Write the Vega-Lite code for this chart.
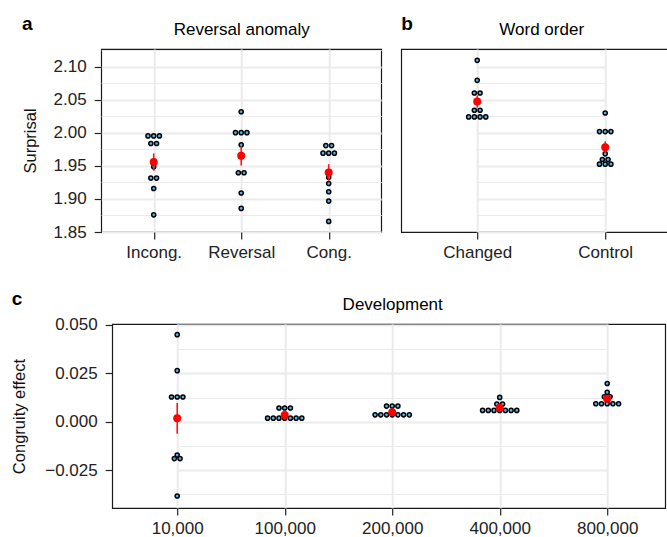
{
  "$schema": "https://vega.github.io/schema/vega-lite/v6.json",
  "padding": {"left": 11, "top": 14, "right": 0, "bottom": 2},
  "background": "white",
  "config": {
    "font": "Liberation Sans",
    "view": {"stroke": "#1a1a1a", "strokeWidth": 1.2},
    "axis": {"labelFont": "Liberation Sans", "labelFontSize": 17, "labelColor": "#222", "titleFont": "Liberation Sans", "titleFontSize": 16.5, "titleFontWeight": "normal", "titleColor": "#111", "tickColor": "#222", "tickSize": 7, "tickWidth": 1.2, "domain": false, "gridColor": "#ebebeb", "labelOverlap": false},
    "title": {"font": "Liberation Sans", "fontSize": 19, "fontWeight": "bold", "anchor": "start", "frame": "bounds", "color": "#000", "offset": -14}
  },
  "datasets": {
    "rev": [
      {"cond": "Incong.", "value": 1.9955}, {"cond": "Incong.", "value": 1.9955}, {"cond": "Incong.", "value": 1.9955},
      {"cond": "Incong.", "value": 1.984}, {"cond": "Incong.", "value": 1.984}, {"cond": "Incong.", "value": 1.9486},
      {"cond": "Incong.", "value": 1.9316}, {"cond": "Incong.", "value": 1.9316}, {"cond": "Incong.", "value": 1.9159},
      {"cond": "Incong.", "value": 1.876},
      {"cond": "Reversal", "value": 2.032}, {"cond": "Reversal", "value": 2.0004}, {"cond": "Reversal", "value": 2.0004},
      {"cond": "Reversal", "value": 2.0004}, {"cond": "Reversal", "value": 1.982}, {"cond": "Reversal", "value": 1.965},
      {"cond": "Reversal", "value": 1.9396}, {"cond": "Reversal", "value": 1.9396}, {"cond": "Reversal", "value": 1.909},
      {"cond": "Reversal", "value": 1.8857},
      {"cond": "Cong.", "value": 1.9808}, {"cond": "Cong.", "value": 1.9808}, {"cond": "Cong.", "value": 1.9693},
      {"cond": "Cong.", "value": 1.9693}, {"cond": "Cong.", "value": 1.9693}, {"cond": "Cong.", "value": 1.933},
      {"cond": "Cong.", "value": 1.9234}, {"cond": "Cong.", "value": 1.9109}, {"cond": "Cong.", "value": 1.8968},
      {"cond": "Cong.", "value": 1.866}
    ],
    "word": [
      {"cond": "Changed", "value": 2.1098}, {"cond": "Changed", "value": 2.0796}, {"cond": "Changed", "value": 2.0604},
      {"cond": "Changed", "value": 2.0604}, {"cond": "Changed", "value": 2.0343}, {"cond": "Changed", "value": 2.0343},
      {"cond": "Changed", "value": 2.0242}, {"cond": "Changed", "value": 2.0242}, {"cond": "Changed", "value": 2.0242},
      {"cond": "Changed", "value": 2.0242},
      {"cond": "Control", "value": 2.0302}, {"cond": "Control", "value": 2.002}, {"cond": "Control", "value": 2.002},
      {"cond": "Control", "value": 2.002}, {"cond": "Control", "value": 1.9683}, {"cond": "Control", "value": 1.9597},
      {"cond": "Control", "value": 1.9597}, {"cond": "Control", "value": 1.9527}, {"cond": "Control", "value": 1.9527},
      {"cond": "Control", "value": 1.9527}
    ],
    "dev": [
      {"steps": "10,000", "value": 0.045}, {"steps": "10,000", "value": 0.0264}, {"steps": "10,000", "value": 0.0128},
      {"steps": "10,000", "value": 0.0128}, {"steps": "10,000", "value": 0.0128}, {"steps": "10,000", "value": 0.0016},
      {"steps": "10,000", "value": -0.0172}, {"steps": "10,000", "value": -0.019}, {"steps": "10,000", "value": -0.019},
      {"steps": "10,000", "value": -0.0383},
      {"steps": "100,000", "value": 0.0071}, {"steps": "100,000", "value": 0.0071}, {"steps": "100,000", "value": 0.0071},
      {"steps": "100,000", "value": 0.0019}, {"steps": "100,000", "value": 0.0019}, {"steps": "100,000", "value": 0.0019},
      {"steps": "100,000", "value": 0.0019}, {"steps": "100,000", "value": 0.0019}, {"steps": "100,000", "value": 0.0019},
      {"steps": "100,000", "value": 0.0019},
      {"steps": "200,000", "value": 0.0081}, {"steps": "200,000", "value": 0.0081}, {"steps": "200,000", "value": 0.0081},
      {"steps": "200,000", "value": 0.0036}, {"steps": "200,000", "value": 0.0036}, {"steps": "200,000", "value": 0.0036},
      {"steps": "200,000", "value": 0.0036}, {"steps": "200,000", "value": 0.0036}, {"steps": "200,000", "value": 0.0036},
      {"steps": "200,000", "value": 0.0036},
      {"steps": "400,000", "value": 0.0126}, {"steps": "400,000", "value": 0.0092}, {"steps": "400,000", "value": 0.0092},
      {"steps": "400,000", "value": 0.0059}, {"steps": "400,000", "value": 0.0059}, {"steps": "400,000", "value": 0.0059},
      {"steps": "400,000", "value": 0.0059}, {"steps": "400,000", "value": 0.0059}, {"steps": "400,000", "value": 0.0059},
      {"steps": "400,000", "value": 0.0059},
      {"steps": "800,000", "value": 0.0198}, {"steps": "800,000", "value": 0.0152}, {"steps": "800,000", "value": 0.0129},
      {"steps": "800,000", "value": 0.0129}, {"steps": "800,000", "value": 0.0117}, {"steps": "800,000", "value": 0.0093},
      {"steps": "800,000", "value": 0.0093}, {"steps": "800,000", "value": 0.0093}, {"steps": "800,000", "value": 0.0093},
      {"steps": "800,000", "value": 0.0093}
    ]
  },
  "spacing": 28,
  "center": true,
  "vconcat": [
    {
      "spacing": 18,
      "hconcat": [
        {
          "title": {"text": "a"},
          "width": 280,
          "height": 183,
          "data": {"name": "rev"},
          "layer": [
            {
              "transform": [
                {"window": [{"op": "row_number", "as": "rk"}], "groupby": ["cond", "value"]},
                {"joinaggregate": [{"op": "count", "as": "n"}], "groupby": ["cond", "value"]},
                {"calculate": "datum.rk - (datum.n + 1) / 2", "as": "off"}
              ],
              "mark": {"type": "circle", "size": 17, "fill": "#56B4E9", "stroke": "#000", "strokeWidth": 1.5, "opacity": 1},
              "encoding": {
                "x": {"field": "cond", "type": "nominal", "sort": ["Incong.", "Reversal", "Cong."], "scale": {"type": "point", "padding": 0.6}, "axis": {"title": null, "labelAngle": 0, "grid": true, "gridWidth": 2, "labelPadding": 5}},
                "xOffset": {"field": "off", "type": "quantitative", "scale": {"domain": [-1, 1], "range": [-5.7, 5.7]}},
                "y": {"field": "value", "type": "quantitative", "scale": {"domain": [1.85, 2.127], "nice": false, "zero": false},
                  "axis": {"title": "Surprisal", "values": [1.85, 1.875, 1.9, 1.925, 1.95, 1.975, 2.0, 2.025, 2.05, 2.075, 2.1, 2.125], "format": ".2f",
                    "labelExpr": "round(datum.value*1000)%50==0 ? datum.label : ''",
                    "tickOpacity": {"condition": {"test": "round(datum.value*1000)%50==0", "value": 1}, "value": 0},
                    "gridWidth": {"condition": {"test": "round(datum.value*1000)%50==0", "value": 2}, "value": 1},
                    "titlePadding": 15, "labelPadding": 8}}
              }
            },
            {
              "mark": {"type": "errorbar", "extent": "stderr", "color": "#ff1a1a", "thickness": 1.6},
              "encoding": {
                "x": {"field": "cond", "type": "nominal", "sort": ["Incong.", "Reversal", "Cong."], "axis": {"orient": "top", "title": "Reversal anomaly", "labels": false, "ticks": false, "grid": false, "titleFontSize": 17, "titlePadding": 11, "titleColor": "#000"}},
                "y": {"field": "value", "type": "quantitative", "axis": null}
              }
            },
            {
              "mark": {"type": "circle", "size": 64, "color": "#ff0000", "opacity": 1},
              "encoding": {
                "x": {"field": "cond", "type": "nominal", "sort": ["Incong.", "Reversal", "Cong."], "axis": null},
                "y": {"aggregate": "mean", "field": "value", "type": "quantitative", "axis": null}
              }
            }
          ],
          "resolve": {"axis": {"x": "independent", "y": "independent"}}
        },
        {
          "title": {"text": "b"},
          "width": 275,
          "height": 183,
          "data": {"name": "word"},
          "layer": [
            {
              "transform": [
                {"window": [{"op": "row_number", "as": "rk"}], "groupby": ["cond", "value"]},
                {"joinaggregate": [{"op": "count", "as": "n"}], "groupby": ["cond", "value"]},
                {"calculate": "datum.rk - (datum.n + 1) / 2", "as": "off"}
              ],
              "mark": {"type": "circle", "size": 17, "fill": "#56B4E9", "stroke": "#000", "strokeWidth": 1.5, "opacity": 1},
              "encoding": {
                "x": {"field": "cond", "type": "nominal", "sort": ["Changed", "Control"], "scale": {"type": "point", "padding": 0, "range": [76, 204]}, "axis": {"title": null, "labelAngle": 0, "grid": true, "gridWidth": 2, "labelPadding": 5}},
                "xOffset": {"field": "off", "type": "quantitative", "scale": {"domain": [-1, 1], "range": [-5.7, 5.7]}},
                "y": {"field": "value", "type": "quantitative", "scale": {"domain": [1.85, 2.127], "nice": false, "zero": false},
                  "axis": {"title": null, "labels": false, "ticks": false, "values": [1.85, 1.875, 1.9, 1.925, 1.95, 1.975, 2.0, 2.025, 2.05, 2.075, 2.1, 2.125],
                    "gridWidth": {"condition": {"test": "round(datum.value*1000)%50==0", "value": 2}, "value": 1}}}
              }
            },
            {
              "mark": {"type": "errorbar", "extent": "stderr", "color": "#ff1a1a", "thickness": 1.6},
              "encoding": {
                "x": {"field": "cond", "type": "nominal", "sort": ["Changed", "Control"], "axis": {"orient": "top", "title": "Word order", "labels": false, "ticks": false, "grid": false, "titleFontSize": 17, "titlePadding": 11, "titleColor": "#000"}},
                "y": {"field": "value", "type": "quantitative", "axis": null}
              }
            },
            {
              "mark": {"type": "circle", "size": 64, "color": "#ff0000", "opacity": 1},
              "encoding": {
                "x": {"field": "cond", "type": "nominal", "sort": ["Changed", "Control"], "axis": null},
                "y": {"aggregate": "mean", "field": "value", "type": "quantitative", "axis": null}
              }
            }
          ],
          "resolve": {"axis": {"x": "independent", "y": "independent"}}
        }
      ]
    },
    {
      "title": {"text": "c"},
      "width": 553,
      "height": 184,
      "data": {"name": "dev"},
      "layer": [
        {
          "transform": [
            {"window": [{"op": "row_number", "as": "rk"}], "groupby": ["steps", "value"]},
            {"joinaggregate": [{"op": "count", "as": "n"}], "groupby": ["steps", "value"]},
            {"calculate": "datum.rk - (datum.n + 1) / 2", "as": "off"}
          ],
          "mark": {"type": "circle", "size": 17, "fill": "#56B4E9", "stroke": "#000", "strokeWidth": 1.5, "opacity": 1},
          "encoding": {
            "x": {"field": "steps", "type": "nominal", "sort": ["10,000", "100,000", "200,000", "400,000", "800,000"], "scale": {"type": "point", "padding": 0, "range": [65, 495]}, "axis": {"title": null, "labelAngle": 0, "grid": true, "gridWidth": 2, "labelPadding": 5}},
            "xOffset": {"field": "off", "type": "quantitative", "scale": {"domain": [-1, 1], "range": [-5.7, 5.7]}},
            "y": {"field": "value", "type": "quantitative", "scale": {"domain": [-0.0445, 0.0505], "nice": false, "zero": false},
              "axis": {"title": "Congruity effect", "values": [-0.0375, -0.025, -0.0125, 0, 0.0125, 0.025, 0.0375, 0.05], "format": ".3f",
                "labelExpr": "abs(round(datum.value*10000))%250==0 ? datum.label : ''",
                "tickOpacity": {"condition": {"test": "abs(round(datum.value*10000))%250==0", "value": 1}, "value": 0},
                "gridWidth": {"condition": {"test": "abs(round(datum.value*10000))%250==0", "value": 2}, "value": 1},
                "titlePadding": 17, "labelPadding": 8}}
          }
        },
        {
          "mark": {"type": "errorbar", "extent": "stderr", "color": "#ff1a1a", "thickness": 1.6},
          "encoding": {
            "x": {"field": "steps", "type": "nominal", "sort": ["10,000", "100,000", "200,000", "400,000", "800,000"], "axis": {"orient": "top", "title": "Development", "labels": false, "ticks": false, "grid": false, "titleFontSize": 17, "titlePadding": 11, "titleColor": "#000"}},
            "y": {"field": "value", "type": "quantitative", "axis": null}
          }
        },
        {
          "mark": {"type": "circle", "size": 64, "color": "#ff0000", "opacity": 1},
          "encoding": {
            "x": {"field": "steps", "type": "nominal", "sort": ["10,000", "100,000", "200,000", "400,000", "800,000"], "axis": null},
            "y": {"aggregate": "mean", "field": "value", "type": "quantitative", "axis": null}
          }
        }
      ],
      "resolve": {"axis": {"x": "independent", "y": "independent"}}
    }
  ]
}
